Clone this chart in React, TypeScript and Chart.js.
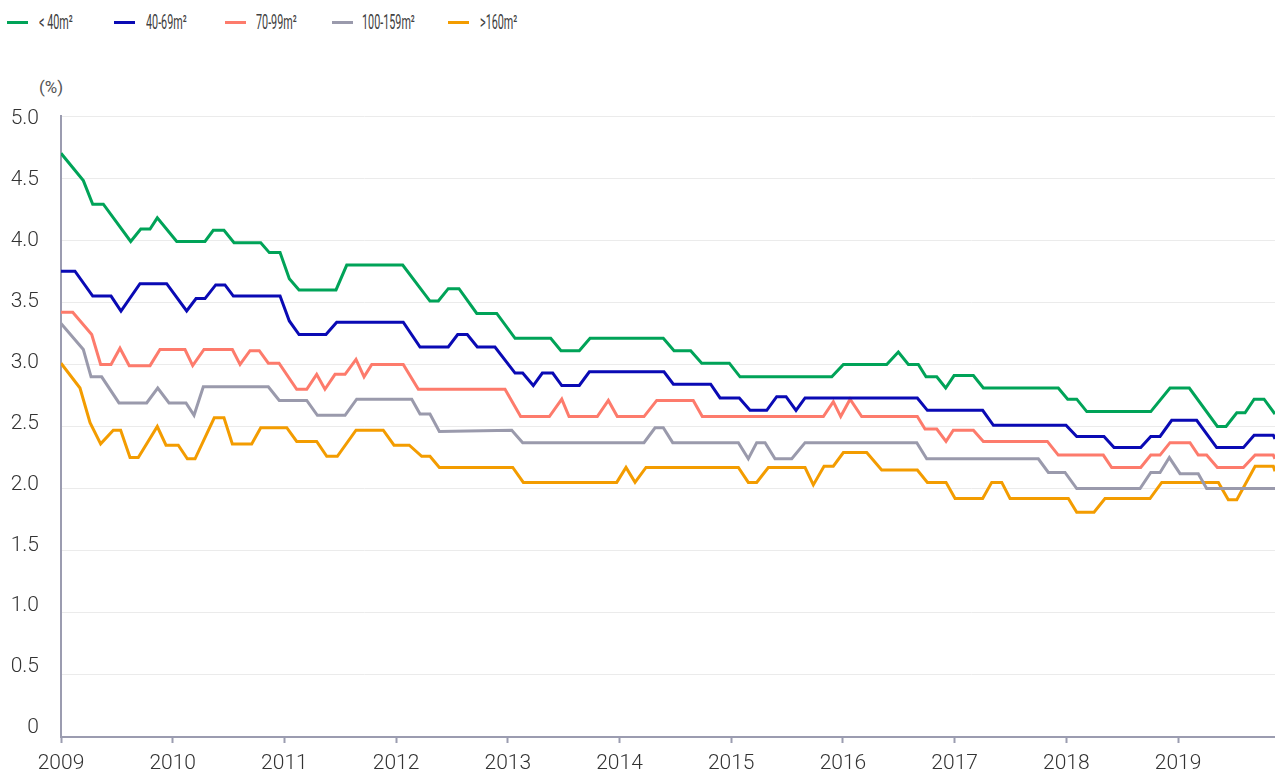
import React, { useEffect, useRef } from "react";
import { Chart, registerables } from "chart.js";

Chart.register(...registerables);

// ---- Data (x = decimal year, y = %) ----
const lt40Years = [2009.000, 2009.200, 2009.284, 2009.379, 2009.624, 2009.714, 2009.797, 2009.862, 2010.036, 2010.289, 2010.363, 2010.459, 2010.549, 2010.788, 2010.865, 2010.961, 2011.044, 2011.131, 2011.462, 2011.558, 2012.059, 2012.303, 2012.378, 2012.467, 2012.563, 2012.722, 2012.901, 2013.065, 2013.384, 2013.476, 2013.640, 2013.736, 2014.392, 2014.488, 2014.637, 2014.736, 2014.983, 2015.079, 2015.900, 2016.004, 2016.392, 2016.496, 2016.586, 2016.675, 2016.744, 2016.840, 2016.920, 2016.995, 2017.168, 2017.257, 2017.928, 2018.012, 2018.093, 2018.183, 2018.756, 2018.928, 2019.101, 2019.352, 2019.430, 2019.526, 2019.600, 2019.681, 2019.770, 2019.868];
const lt40Values = [4.70, 4.48, 4.29, 4.29, 3.99, 4.09, 4.09, 4.18, 3.99, 3.99, 4.08, 4.08, 3.98, 3.98, 3.90, 3.90, 3.69, 3.60, 3.60, 3.80, 3.80, 3.51, 3.51, 3.61, 3.61, 3.41, 3.41, 3.21, 3.21, 3.11, 3.11, 3.21, 3.21, 3.11, 3.11, 3.01, 3.01, 2.90, 2.90, 3.00, 3.00, 3.10, 3.00, 3.00, 2.90, 2.90, 2.81, 2.91, 2.91, 2.81, 2.81, 2.72, 2.72, 2.62, 2.62, 2.81, 2.81, 2.50, 2.50, 2.61, 2.61, 2.72, 2.72, 2.60];

const m40to69Years = [2009.000, 2009.125, 2009.284, 2009.448, 2009.537, 2009.707, 2009.946, 2010.125, 2010.209, 2010.289, 2010.385, 2010.468, 2010.543, 2010.961, 2011.044, 2011.131, 2011.372, 2011.468, 2012.064, 2012.214, 2012.467, 2012.551, 2012.637, 2012.727, 2012.885, 2013.065, 2013.133, 2013.228, 2013.309, 2013.402, 2013.483, 2013.640, 2013.730, 2014.398, 2014.482, 2014.816, 2014.900, 2015.072, 2015.168, 2015.318, 2015.407, 2015.491, 2015.580, 2015.661, 2016.666, 2016.756, 2017.251, 2017.347, 2017.997, 2018.093, 2018.337, 2018.427, 2018.666, 2018.756, 2018.839, 2018.943, 2019.167, 2019.346, 2019.585, 2019.681, 2019.853, 2019.868];
const m40to69Values = [3.75, 3.75, 3.55, 3.55, 3.43, 3.65, 3.65, 3.43, 3.53, 3.53, 3.64, 3.64, 3.55, 3.55, 3.35, 3.24, 3.24, 3.34, 3.34, 3.14, 3.14, 3.24, 3.24, 3.14, 3.14, 2.93, 2.93, 2.83, 2.93, 2.93, 2.83, 2.83, 2.94, 2.94, 2.84, 2.84, 2.73, 2.73, 2.63, 2.63, 2.74, 2.74, 2.63, 2.73, 2.73, 2.63, 2.63, 2.51, 2.51, 2.42, 2.42, 2.33, 2.33, 2.42, 2.42, 2.55, 2.55, 2.33, 2.33, 2.43, 2.43, 2.40];

const m70to99Years = [2009.000, 2009.105, 2009.275, 2009.355, 2009.448, 2009.528, 2009.611, 2009.797, 2009.886, 2010.110, 2010.179, 2010.280, 2010.534, 2010.603, 2010.692, 2010.775, 2010.856, 2010.952, 2011.110, 2011.200, 2011.289, 2011.363, 2011.453, 2011.543, 2011.641, 2011.713, 2011.782, 2012.064, 2012.199, 2012.975, 2013.115, 2013.372, 2013.483, 2013.548, 2013.801, 2013.900, 2013.980, 2014.219, 2014.333, 2014.660, 2014.741, 2015.825, 2015.914, 2015.980, 2016.064, 2016.168, 2016.666, 2016.735, 2016.840, 2016.923, 2016.988, 2017.168, 2017.257, 2017.830, 2017.928, 2018.331, 2018.406, 2018.666, 2018.756, 2018.839, 2018.928, 2019.107, 2019.181, 2019.256, 2019.352, 2019.585, 2019.690, 2019.853, 2019.868];
const m70to99Values = [3.42, 3.42, 3.24, 3.00, 3.00, 3.13, 2.99, 2.99, 3.12, 3.12, 2.99, 3.12, 3.12, 3.00, 3.11, 3.11, 3.01, 3.01, 2.80, 2.80, 2.92, 2.80, 2.92, 2.92, 3.04, 2.90, 3.00, 3.00, 2.80, 2.80, 2.58, 2.58, 2.72, 2.58, 2.58, 2.71, 2.58, 2.58, 2.71, 2.71, 2.58, 2.58, 2.70, 2.58, 2.72, 2.58, 2.58, 2.48, 2.48, 2.38, 2.47, 2.47, 2.38, 2.38, 2.27, 2.27, 2.17, 2.17, 2.27, 2.27, 2.37, 2.37, 2.27, 2.27, 2.17, 2.17, 2.27, 2.27, 2.24];

const m100to159Years = [2009.000, 2009.200, 2009.269, 2009.364, 2009.519, 2009.767, 2009.866, 2009.967, 2010.119, 2010.191, 2010.274, 2010.856, 2010.954, 2011.200, 2011.295, 2011.543, 2011.647, 2012.140, 2012.214, 2012.303, 2012.387, 2013.035, 2013.133, 2014.219, 2014.318, 2014.392, 2014.476, 2015.064, 2015.153, 2015.228, 2015.303, 2015.392, 2015.542, 2015.661, 2016.661, 2016.750, 2017.749, 2017.839, 2017.988, 2018.093, 2018.660, 2018.756, 2018.839, 2018.922, 2019.018, 2019.181, 2019.256, 2019.868];
const m100to159Values = [3.33, 3.12, 2.90, 2.90, 2.69, 2.69, 2.81, 2.69, 2.69, 2.59, 2.82, 2.82, 2.71, 2.71, 2.59, 2.59, 2.72, 2.72, 2.60, 2.60, 2.46, 2.47, 2.37, 2.37, 2.49, 2.49, 2.37, 2.37, 2.24, 2.37, 2.37, 2.24, 2.24, 2.37, 2.37, 2.24, 2.24, 2.13, 2.13, 2.00, 2.00, 2.13, 2.13, 2.25, 2.12, 2.12, 2.00, 2.00];

const gt160Years = [2009.000, 2009.170, 2009.260, 2009.355, 2009.468, 2009.534, 2009.618, 2009.692, 2009.862, 2009.940, 2010.050, 2010.131, 2010.200, 2010.372, 2010.459, 2010.534, 2010.707, 2010.788, 2011.021, 2011.110, 2011.289, 2011.379, 2011.474, 2011.641, 2011.885, 2011.981, 2012.118, 2012.229, 2012.303, 2012.387, 2013.044, 2013.139, 2013.975, 2014.058, 2014.139, 2014.237, 2015.064, 2015.153, 2015.228, 2015.332, 2015.661, 2015.735, 2015.831, 2015.914, 2016.004, 2016.213, 2016.347, 2016.666, 2016.756, 2016.923, 2017.004, 2017.251, 2017.332, 2017.422, 2017.496, 2018.018, 2018.093, 2018.248, 2018.346, 2018.749, 2018.854, 2019.361, 2019.450, 2019.526, 2019.690, 2019.853, 2019.868];
const gt160Values = [3.01, 2.81, 2.53, 2.36, 2.47, 2.47, 2.25, 2.25, 2.50, 2.35, 2.35, 2.24, 2.24, 2.57, 2.57, 2.36, 2.36, 2.49, 2.49, 2.38, 2.38, 2.26, 2.26, 2.47, 2.47, 2.35, 2.35, 2.26, 2.26, 2.17, 2.17, 2.05, 2.05, 2.17, 2.05, 2.17, 2.17, 2.05, 2.05, 2.17, 2.17, 2.03, 2.18, 2.18, 2.29, 2.29, 2.15, 2.15, 2.05, 2.05, 1.92, 1.92, 2.05, 2.05, 1.92, 1.92, 1.81, 1.81, 1.92, 1.92, 2.05, 2.05, 1.91, 1.91, 2.18, 2.18, 2.14];

const seriesNames = ["< 40m²", "40-69m²", "70-99m²", "100-159m²", ">160m²"];
const seriesColors = ["#00a358", "#0a0ab4", "#fd7b6c", "#9a9aac", "#f39c00"];
const yearTicks = [2009, 2010, 2011, 2012, 2013, 2014, 2015, 2016, 2017, 2018, 2019];
const valueTicks = [0, 0.5, 1, 1.5, 2, 2.5, 3, 3.5, 4, 4.5, 5];
const xEnd = 2019.868;
// the tick labels in the source sit on a slightly tighter spacing than the grid
const labelAxisMin = -0.074;
const labelAxisMax = 5.025;

// legend layout (pixels)
const legendLineLeft = [7, 114, 225, 332, 448];
const legendTextLeft = [39, 146, 256, 362, 480];

const axisColor = "#9b9cb0";
const fontFamily = "Roboto, 'Noto Sans', sans-serif";

function toPoints(xs: number[], ys: number[]) {
  return xs.map((x, i) => ({ x, y: ys[i] }));
}

export default function App() {
  const canvasRef = useRef<HTMLCanvasElement | null>(null);

  useEffect(() => {
    if (!canvasRef.current) return;
    const seriesX = [lt40Years, m40to69Years, m70to99Years, m100to159Years, gt160Years];
    const seriesY = [lt40Values, m40to69Values, m70to99Values, m100to159Values, gt160Values];
    const chart = new Chart(canvasRef.current, {
      type: "line",
      data: {
        datasets: seriesNames.map((name, i) => ({
          label: name,
          data: toPoints(seriesX[i], seriesY[i]),
          borderColor: seriesColors[i],
          backgroundColor: seriesColors[i],
          borderWidth: 3,
          pointRadius: 0,
          tension: 0,
          fill: false,
          yAxisID: "y",
        })),
      },
      options: {
        animation: false,
        responsive: true,
        maintainAspectRatio: false,
        layout: { padding: { top: 116, left: 0, right: 0, bottom: 0 } },
        plugins: {
          legend: { display: false },
          tooltip: { enabled: false },
        },
        scales: {
          x: {
            type: "linear",
            min: 2009,
            max: xEnd,
            afterBuildTicks: (s: any) => {
              s.ticks = yearTicks.map((v) => ({ value: v }));
            },
            afterFit: (s: any) => {
              s.height = 36;
            },
            grid: {
              display: true,
              drawOnChartArea: false,
              drawTicks: true,
              tickLength: 6,
              tickColor: axisColor,
              tickWidth: 2,
            },
            border: { display: true, color: axisColor, width: 2 },
            ticks: {
              autoSkip: false,
              maxRotation: 0,
              padding: 8,
              color: "#333333",
              font: { family: fontFamily, size: 21, weight: "300" },
              callback: (v: any) => String(v),
            },
          },
          y: {
            position: "left",
            min: 0,
            max: 5,
            afterBuildTicks: (s: any) => {
              s.ticks = valueTicks.map((v) => ({ value: v }));
            },
            afterFit: (s: any) => {
              s.width = 0;
            },
            grid: { color: "#ebebeb", lineWidth: 1, drawTicks: false },
            border: { display: false },
            ticks: { display: false },
          },
          yLabels: {
            position: "left",
            min: labelAxisMin,
            max: labelAxisMax,
            afterBuildTicks: (s: any) => {
              s.ticks = valueTicks.map((v) => ({ value: v }));
            },
            afterFit: (s: any) => {
              s.width = 61;
            },
            grid: { display: false, drawTicks: false },
            border: { display: true, color: axisColor, width: 2 },
            ticks: {
              padding: 22,
              autoSkip: false,
              color: "#333333",
              font: { family: fontFamily, size: 21, weight: "300" },
              callback: (v: any) => (v === 0 ? "0" : Number(v).toFixed(1)),
            },
          },
        },
      },
    });
    return () => chart.destroy();
  }, []);

  return (
    <div
      style={{
        position: "fixed",
        left: 0,
        top: 0,
        width: 1275,
        height: 773,
        background: "#ffffff",
        fontFamily,
      }}
    >
      {seriesNames.map((name, i) => (
        <React.Fragment key={name}>
          <div
            style={{
              position: "absolute",
              left: legendLineLeft[i],
              top: 20.5,
              width: 21,
              height: 3,
              background: seriesColors[i],
            }}
          />
          <div
            style={{
              position: "absolute",
              left: legendTextLeft[i],
              top: 10,
              fontSize: 20,
              fontWeight: 400,
              lineHeight: "24px",
              color: "#404040",
              whiteSpace: "nowrap",
              transform: "scaleX(0.54)",
              transformOrigin: "0 50%",
            }}
          >
            {name}
          </div>
        </React.Fragment>
      ))}
      <div
        style={{
          position: "absolute",
          left: 39,
          top: 77,
          fontSize: 17,
          lineHeight: "20px",
          color: "#555555",
          whiteSpace: "nowrap",
        }}
      >
        (%)
      </div>
      <div style={{ position: "absolute", left: 0, top: 0, width: 1275, height: 773 }}>
        <canvas ref={canvasRef} />
      </div>
    </div>
  );
}
